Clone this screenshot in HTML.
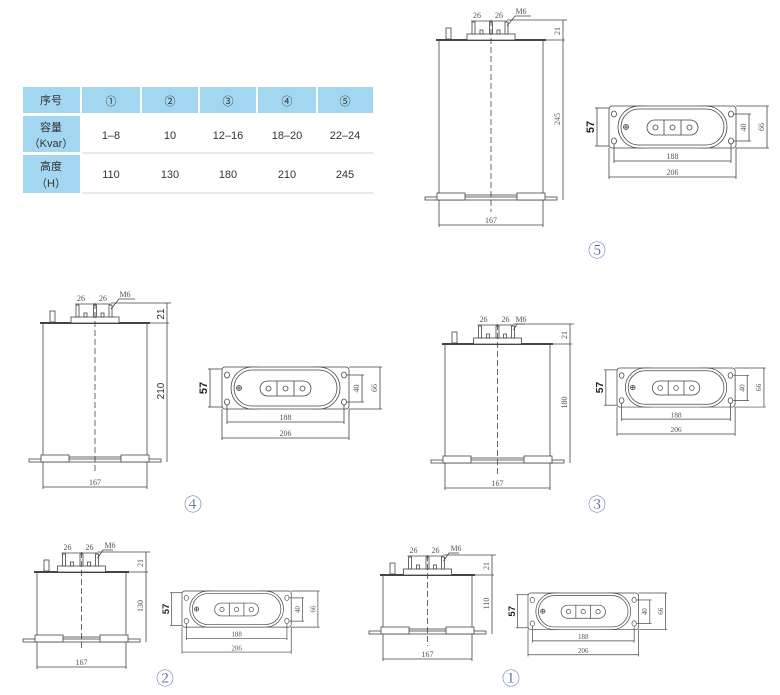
<!DOCTYPE html>
<html><head><meta charset="utf-8"><style>
html,body{margin:0;padding:0;background:#fff;}
body{width:780px;height:695px;position:relative;overflow:hidden;}
svg{position:absolute;left:0;top:0;}
.d line,.d rect,.d path,.d circle,.d ellipse,.d polyline{stroke:#444;stroke-width:0.8;fill:none;}
.d .w{fill:#fff;}
.d .th{stroke-width:2;}
.d .cl{stroke-dasharray:6,3;}
.d text{font-family:"Liberation Serif",serif;font-size:8px;fill:#555;stroke:none;text-anchor:middle;}
.d text.b{font-family:"Liberation Sans",sans-serif;font-weight:bold;font-size:11px;fill:#222;}
.t text{font-family:"Liberation Sans","Noto Sans CJK SC",sans-serif;font-size:11px;fill:#333;text-anchor:middle;}
.num{font-family:"Liberation Serif","Noto Serif CJK SC",serif;font-size:18px;fill:#6070a8;text-anchor:middle;}
</style></head><body>
<svg width="780" height="695" viewBox="0 0 780 695">
<!-- table -->
<g class="t">
<rect x="23" y="87" width="57" height="26" fill="#a3d6f0"/>
<rect x="23" y="116" width="57" height="36" fill="#a3d6f0"/>
<rect x="23" y="155" width="57" height="38" fill="#a3d6f0"/>
<rect x="82" y="87" width="58" height="26" fill="#a3d6f0"/>
<rect x="142" y="87" width="56" height="26" fill="#a3d6f0"/>
<rect x="200" y="87" width="56" height="26" fill="#a3d6f0"/>
<rect x="258" y="87" width="58" height="26" fill="#a3d6f0"/>
<rect x="318" y="87" width="55" height="26" fill="#a3d6f0"/>
<line x1="82" y1="153" x2="373" y2="153" stroke="#c8d4dc" stroke-width="1"/>
<line x1="82" y1="193" x2="373" y2="193" stroke="#c8d4dc" stroke-width="1"/>
<text x="51" y="104">序号</text>
<text x="111" y="105" fill="#555">①</text><text x="170" y="105" fill="#555">②</text><text x="228" y="105" fill="#555">③</text><text x="287" y="105" fill="#555">④</text><text x="345" y="105" fill="#555">⑤</text>
<text x="51" y="131">容量</text><text x="51" y="147">（Kvar）</text>
<text x="111" y="139">1–8</text><text x="170" y="139">10</text><text x="228" y="139">12–16</text><text x="287" y="139">18–20</text><text x="345" y="139">22–24</text>
<text x="51" y="170">高度</text><text x="51" y="187">（H）</text>
<text x="111" y="178">110</text><text x="170" y="178">130</text><text x="228" y="178">180</text><text x="287" y="178">210</text><text x="345" y="178">245</text>
</g>

<g class="d">
<!-- side #5 -->
<g transform="translate(439,40)">
<rect x="0" y="0" width="104" height="155"/>
<line class="th" x1="-3" y1="0" x2="107" y2="0"/><line x1="107" y1="0" x2="126" y2="0"/>
<rect class="w" x="-14" y="157" width="132" height="3"/>
<rect class="w" x="-2" y="153" width="28" height="7"/><rect class="w" x="78" y="153" width="28" height="7"/>
<rect class="w" x="28" y="-6" width="48" height="6"/>
<rect class="w" x="33" y="-18" width="3" height="12"/><rect class="w" x="50.5" y="-18" width="3" height="12"/><rect class="w" x="66" y="-18" width="3" height="12"/>
<rect x="41" y="-10" width="3" height="4"/><rect x="58" y="-10" width="3" height="4"/>
<rect class="w" x="7" y="-12" width="5" height="11"/>
<line class="cl" x1="52" y1="-20" x2="52" y2="172"/>
<line x1="124" y1="-20" x2="124" y2="160"/><line x1="68" y1="-20" x2="128" y2="-20"/>
<line x1="0" y1="185" x2="104" y2="185"/><line x1="0" y1="160" x2="0" y2="187"/><line x1="104" y1="160" x2="104" y2="187"/>
<line x1="32" y1="-19" x2="68" y2="-19"/><polyline points="68,-14 76,-24 92,-24"/>
<text x="38" y="-22">26</text><text x="60" y="-22">26</text><text x="82" y="-26">M6</text>
<text transform="translate(121,-9) rotate(-90)">21</text><text transform="translate(121,79) rotate(-90)">245</text><text x="52" y="183">167</text>
</g>
<!-- side #4 -->
<g transform="translate(43,323)">
<rect x="0" y="0" width="104" height="134"/>
<line class="th" x1="-3" y1="0" x2="107" y2="0"/><line x1="107" y1="0" x2="126" y2="0"/>
<rect class="w" x="-14" y="136" width="132" height="3"/>
<rect class="w" x="-2" y="132" width="28" height="7"/><rect class="w" x="78" y="132" width="28" height="7"/>
<rect class="w" x="28" y="-6" width="48" height="6"/>
<rect class="w" x="33" y="-18" width="3" height="12"/><rect class="w" x="50.5" y="-18" width="3" height="12"/><rect class="w" x="66" y="-18" width="3" height="12"/>
<rect x="41" y="-10" width="3" height="4"/><rect x="58" y="-10" width="3" height="4"/>
<rect class="w" x="7" y="-12" width="5" height="11"/>
<line class="cl" x1="52" y1="-20" x2="52" y2="151"/>
<line x1="124" y1="-20" x2="124" y2="139"/><line x1="68" y1="-20" x2="128" y2="-20"/>
<line x1="0" y1="164" x2="104" y2="164"/><line x1="0" y1="139" x2="0" y2="166"/><line x1="104" y1="139" x2="104" y2="166"/>
<line x1="32" y1="-19" x2="68" y2="-19"/><polyline points="68,-14 76,-24 92,-24"/>
<text x="38" y="-22">26</text><text x="60" y="-22">26</text><text x="82" y="-26">M6</text>
<text class="b" style="font-size:10px;font-weight:normal;fill:#333" transform="translate(121,-9) rotate(-90)">21</text><text class="b" style="font-size:10px;font-weight:normal;fill:#333" transform="translate(121,68) rotate(-90)">210</text><text x="52" y="162">167</text>
</g>
<!-- side #3 -->
<g transform="translate(445,344)">
<rect x="0" y="0" width="105" height="114"/>
<line class="th" x1="-3" y1="0" x2="108" y2="0"/><line x1="108" y1="0" x2="127" y2="0"/>
<rect class="w" x="-14" y="116" width="133" height="3"/>
<rect class="w" x="-2" y="112" width="28" height="7"/><rect class="w" x="79" y="112" width="28" height="7"/>
<rect class="w" x="28.5" y="-6" width="48" height="6"/>
<rect class="w" x="33.5" y="-18" width="3" height="12"/><rect class="w" x="51" y="-18" width="3" height="12"/><rect class="w" x="66.5" y="-18" width="3" height="12"/>
<rect x="41.5" y="-10" width="3" height="4"/><rect x="58.5" y="-10" width="3" height="4"/>
<rect class="w" x="7" y="-12" width="5" height="11"/>
<line class="cl" x1="52.5" y1="-20" x2="52.5" y2="131"/>
<line x1="125" y1="-20" x2="125" y2="119"/><line x1="68.5" y1="-20" x2="129" y2="-20"/>
<line x1="0" y1="144" x2="105" y2="144"/><line x1="0" y1="119" x2="0" y2="146"/><line x1="105" y1="119" x2="105" y2="146"/>
<line x1="32.5" y1="-19" x2="68.5" y2="-19"/><polyline points="68.5,-14 72,-20 80,-20"/>
<text x="38.5" y="-22">26</text><text x="60.5" y="-22">26</text><text x="76" y="-22">M6</text>
<text transform="translate(122,-9) rotate(-90)">21</text><text transform="translate(122,58.5) rotate(-90)">180</text><text x="52.5" y="142">167</text>
</g>
<!-- side #2 -->
<g transform="translate(37,572)">
<rect x="0" y="0" width="89" height="65"/>
<line class="th" x1="-3" y1="0" x2="92" y2="0"/><line x1="92" y1="0" x2="111" y2="0"/>
<rect class="w" x="-14" y="67" width="117" height="3"/>
<rect class="w" x="-2" y="63" width="28" height="7"/><rect class="w" x="63" y="63" width="28" height="7"/>
<rect class="w" x="20.5" y="-6" width="48" height="6"/>
<rect class="w" x="25.5" y="-18" width="3" height="12"/><rect class="w" x="43" y="-18" width="3" height="12"/><rect class="w" x="58.5" y="-18" width="3" height="12"/>
<rect x="33.5" y="-10" width="3" height="4"/><rect x="50.5" y="-10" width="3" height="4"/>
<rect class="w" x="7" y="-12" width="5" height="11"/>
<line class="cl" x1="44.5" y1="-20" x2="44.5" y2="76"/>
<line x1="109" y1="-20" x2="109" y2="70"/><line x1="60.5" y1="-20" x2="113" y2="-20"/>
<line x1="0" y1="95" x2="89" y2="95"/><line x1="0" y1="70" x2="0" y2="97"/><line x1="89" y1="70" x2="89" y2="97"/>
<line x1="24.5" y1="-19" x2="60.5" y2="-19"/><polyline points="60.5,-14 66,-22 76,-22"/>
<text x="30.5" y="-22">26</text><text x="52.5" y="-22">26</text><text x="73" y="-24">M6</text>
<text transform="translate(106,-9) rotate(-90)">21</text><text transform="translate(106,34) rotate(-90)">130</text><text x="44.5" y="93">167</text>
</g>
<!-- side #1 -->
<g transform="translate(383,575)">
<rect x="0" y="0" width="89" height="54"/>
<line class="th" x1="-3" y1="0" x2="92" y2="0"/><line x1="92" y1="0" x2="111" y2="0"/>
<rect class="w" x="-14" y="56" width="117" height="3"/>
<rect class="w" x="-2" y="52" width="28" height="7"/><rect class="w" x="63" y="52" width="28" height="7"/>
<rect class="w" x="20.5" y="-6" width="48" height="6"/>
<rect class="w" x="25.5" y="-18" width="3" height="12"/><rect class="w" x="43" y="-18" width="3" height="12"/><rect class="w" x="58.5" y="-18" width="3" height="12"/>
<rect x="33.5" y="-10" width="3" height="4"/><rect x="50.5" y="-10" width="3" height="4"/>
<rect class="w" x="7" y="-12" width="5" height="11"/>
<line class="cl" x1="44.5" y1="-20" x2="44.5" y2="71"/>
<line x1="109" y1="-20" x2="109" y2="59"/><line x1="60.5" y1="-20" x2="113" y2="-20"/>
<line x1="0" y1="84" x2="89" y2="84"/><line x1="0" y1="59" x2="0" y2="86"/><line x1="89" y1="59" x2="89" y2="86"/>
<line x1="24.5" y1="-19" x2="60.5" y2="-19"/><polyline points="60.5,-14 66,-22 76,-22"/>
<text x="30.5" y="-22">26</text><text x="52.5" y="-22">26</text><text x="73" y="-24">M6</text>
<text transform="translate(106,-9) rotate(-90)">21</text><text transform="translate(106,28.5) rotate(-90)">110</text><text x="44.5" y="82">167</text>
</g>

<!-- top views -->
<g id="tv5" transform="translate(609,106)">
<rect class="w" x="0" y="0" width="38" height="42" rx="3"/><rect class="w" x="89" y="0" width="38" height="42" rx="3"/>
<rect class="w" x="9" y="0" width="109" height="42" rx="21"/>
<rect x="12" y="3" width="103" height="36" rx="18"/>
<rect class="w" x="38" y="14" width="51" height="15" rx="7.5"/>
<line x1="55" y1="14" x2="55" y2="29"/><line x1="72" y1="14" x2="72" y2="29"/>
<circle cx="46.5" cy="21.5" r="2.5"/><circle cx="63.5" cy="21.5" r="2.5"/><circle cx="80.5" cy="21.5" r="2.5"/>
<circle cx="17" cy="21" r="2.5"/><line x1="14.5" y1="21" x2="19.5" y2="21"/><line x1="17" y1="18.5" x2="17" y2="23.5"/>
<ellipse cx="5" cy="8" rx="2.5" ry="3"/><ellipse cx="5" cy="35" rx="2.5" ry="3"/><ellipse cx="122" cy="8" rx="2.5" ry="3"/><ellipse cx="122" cy="35" rx="2.5" ry="3"/>
<line x1="-12" y1="2" x2="-12" y2="40"/><line x1="-14" y1="2" x2="0" y2="2"/><line x1="-14" y1="40" x2="0" y2="40"/>
<line x1="140" y1="8" x2="140" y2="35"/><line x1="125" y1="8" x2="142" y2="8"/><line x1="125" y1="35" x2="142" y2="35"/>
<line x1="158" y1="0" x2="158" y2="42"/><line x1="127" y1="0" x2="160" y2="0"/><line x1="127" y1="42" x2="160" y2="42"/>
<line x1="5" y1="38" x2="5" y2="57"/><line x1="122" y1="38" x2="122" y2="57"/><line x1="5" y1="55" x2="122" y2="55"/>
<line x1="0" y1="42" x2="0" y2="73"/><line x1="127" y1="42" x2="127" y2="73"/><line x1="0" y1="71" x2="127" y2="71"/>
<text class="b" transform="translate(-15,21) rotate(-90)">57</text>
<text transform="translate(137,21.5) rotate(-90)">40</text><text transform="translate(155,21) rotate(-90)">66</text>
<text x="63.5" y="53">188</text><text x="63.5" y="69">206</text>
</g>
</g>
<use href="#tv5" transform="translate(-387,261)"/>
<use href="#tv5" transform="translate(617,368) scale(0.93) translate(-609,-106)"/>
<use href="#tv5" transform="translate(182,591) scale(0.86) translate(-609,-106)"/>
<use href="#tv5" transform="translate(528,593) scale(0.87) translate(-609,-106)"/>

<text class="num" x="597" y="257">⑤</text>
<text class="num" x="193" y="511">④</text>
<text class="num" x="597" y="511">③</text>
<text class="num" x="165" y="685">②</text>
<text class="num" x="511" y="685">①</text>
</svg>
</body></html>
